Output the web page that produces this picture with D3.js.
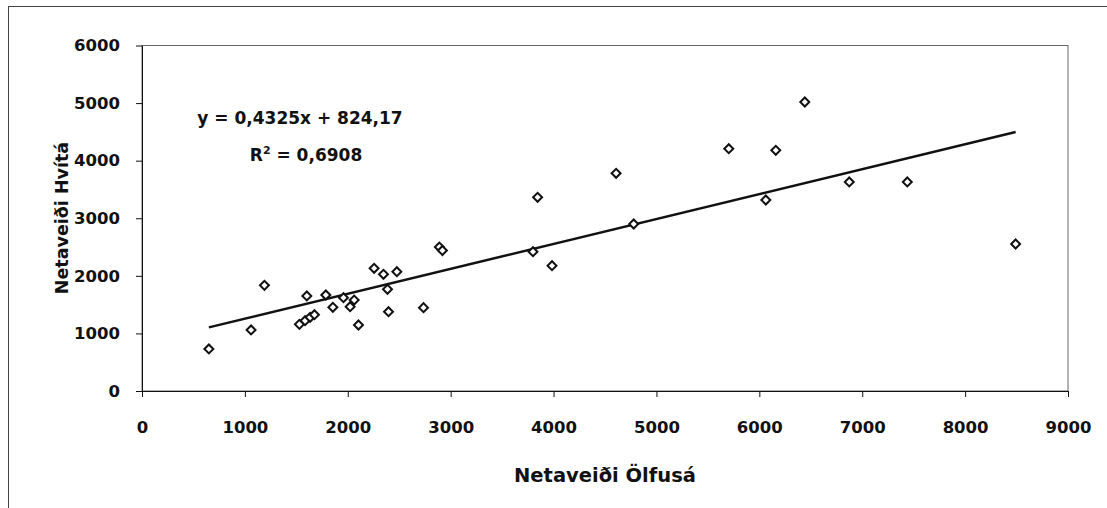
<!DOCTYPE html>
<html>
<head>
<meta charset="utf-8">
<script src="https://cdn.jsdelivr.net/npm/d3@7"></script>
<style>
    body { margin: 0; background: #fff; }
    svg { display: block; }
    text { font-family: "DejaVu Sans", sans-serif; font-weight: bold; fill: #111; }
</style>
</head>
<body>
<div id="chart"></div>
<script>
// Netaveiði Ölfusá (x) against Netaveiði Hvítá (y)
const olfusa = [650, 1060, 1190, 1530, 1585, 1634, 1676, 1602, 1787, 1855, 1958, 2023, 2062, 2104,
    2256, 2347, 2477, 2386, 2396, 2736, 2890, 2920, 3845, 4608, 3800, 3985, 4779,
    6442, 5703, 6160, 6063, 6874, 7438, 8491];
const hvita = [730, 1060, 1835, 1158, 1221, 1280, 1325, 1650, 1667, 1454, 1620, 1464, 1580, 1146,
    2131, 2027, 2072, 1766, 1377, 1447, 2500, 2440, 3364, 3781, 2419, 2176, 2900,
    5019, 4208, 4180, 3317, 3630, 3630, 2553];

const xTicks = [0, 1000, 2000, 3000, 4000, 5000, 6000, 7000, 8000, 9000];
const yTicks = [0, 1000, 2000, 3000, 4000, 5000, 6000];

// trendline as printed on the chart
const slope = 0.4325;
const intercept = 824.17;
const equationText = 'y = 0,4325x + 824,17';
const r2Text = ' = 0,6908';

const xTitle = 'Netaveiði Ölfusá';
const yTitle = 'Netaveiði Hvítá';

const W = 1107, H = 508;
const plot = { left: 142, right: 1068, top: 45.5, bottom: 391 };
const fontSize = '16.5px';

const svg = d3.select('#chart')
    .append('svg')
    .attr('width', W)
    .attr('height', H);

// outer chart frame (runs off the right/bottom of the picture)
svg.append('rect')
    .attr('x', 8.5).attr('y', 6.5)
    .attr('width', W + 20).attr('height', H + 20)
    .attr('fill', 'none')
    .attr('stroke', '#444')
    .attr('stroke-width', 1);

const x = d3.scaleLinear().domain([0, 9000]).range([plot.left, plot.right]);
const y = d3.scaleLinear().domain([0, 6000]).range([plot.bottom, plot.top]);

// plot area border
svg.append('rect')
    .attr('x', x(0)).attr('y', y(6000))
    .attr('width', x(9000) - x(0)).attr('height', y(0) - y(6000))
    .attr('fill', 'none')
    .attr('stroke', '#666')
    .attr('stroke-width', 1);

// axes
const xAxis = d3.axisBottom(x).tickValues(xTicks).tickFormat(d3.format('d'))
    .tickSize(6).tickSizeOuter(0).tickPadding(24);
const yAxis = d3.axisLeft(y).tickValues(yTicks).tickFormat(d3.format('d'))
    .tickSize(6).tickSizeOuter(0).tickPadding(16);

const gx = svg.append('g')
    .attr('transform', `translate(0,${y(0)})`)
    .call(xAxis);
const gy = svg.append('g')
    .attr('transform', `translate(${x(0)},0)`)
    .call(yAxis);

[gx, gy].forEach(g => {
    g.select('.domain').attr('stroke', '#111');
    g.selectAll('.tick line').attr('stroke', '#111');
    g.selectAll('.tick text')
        .style('font-family', '"DejaVu Sans", sans-serif')
        .style('font-weight', 'bold')
        .style('font-size', fontSize)
        .attr('fill', '#111');
});

// trendline over the range of the data
const xMin = d3.min(olfusa), xMax = d3.max(olfusa);
svg.append('line')
    .attr('x1', x(xMin)).attr('y1', y(slope * xMin + intercept))
    .attr('x2', x(xMax)).attr('y2', y(slope * xMax + intercept))
    .attr('stroke', '#111')
    .attr('stroke-width', 2.5);

// diamond markers
const diamond = d3.symbol().type(d3.symbolSquare).size(40);
svg.selectAll('.pt')
    .data(d3.zip(olfusa, hvita))
    .enter()
    .append('path')
    .attr('class', 'pt')
    .attr('d', diamond)
    .attr('transform', d => `translate(${x(d[0])},${y(d[1])}) rotate(45)`)
    .attr('fill', '#fff')
    .attr('stroke', '#111')
    .attr('stroke-width', 2);

// equation label
svg.append('text')
    .attr('x', 300).attr('y', 124)
    .attr('text-anchor', 'middle')
    .style('font-size', '17px')
    .text(equationText);

const eq = svg.append('text')
    .attr('x', 306).attr('y', 161)
    .attr('text-anchor', 'middle')
    .style('font-size', '17px');
eq.append('tspan').text('R');
eq.append('tspan').attr('dy', -7).style('font-size', '11px').text('2');
eq.append('tspan').attr('dy', 7).text(r2Text);

// axis titles
svg.append('text')
    .attr('x', 605).attr('y', 482)
    .attr('text-anchor', 'middle')
    .style('font-size', '19.5px')
    .text(xTitle);

svg.append('text')
    .attr('transform', 'translate(68,218) rotate(-90)')
    .attr('text-anchor', 'middle')
    .style('font-size', '17.5px')
    .text(yTitle);
</script>
</body>
</html>
